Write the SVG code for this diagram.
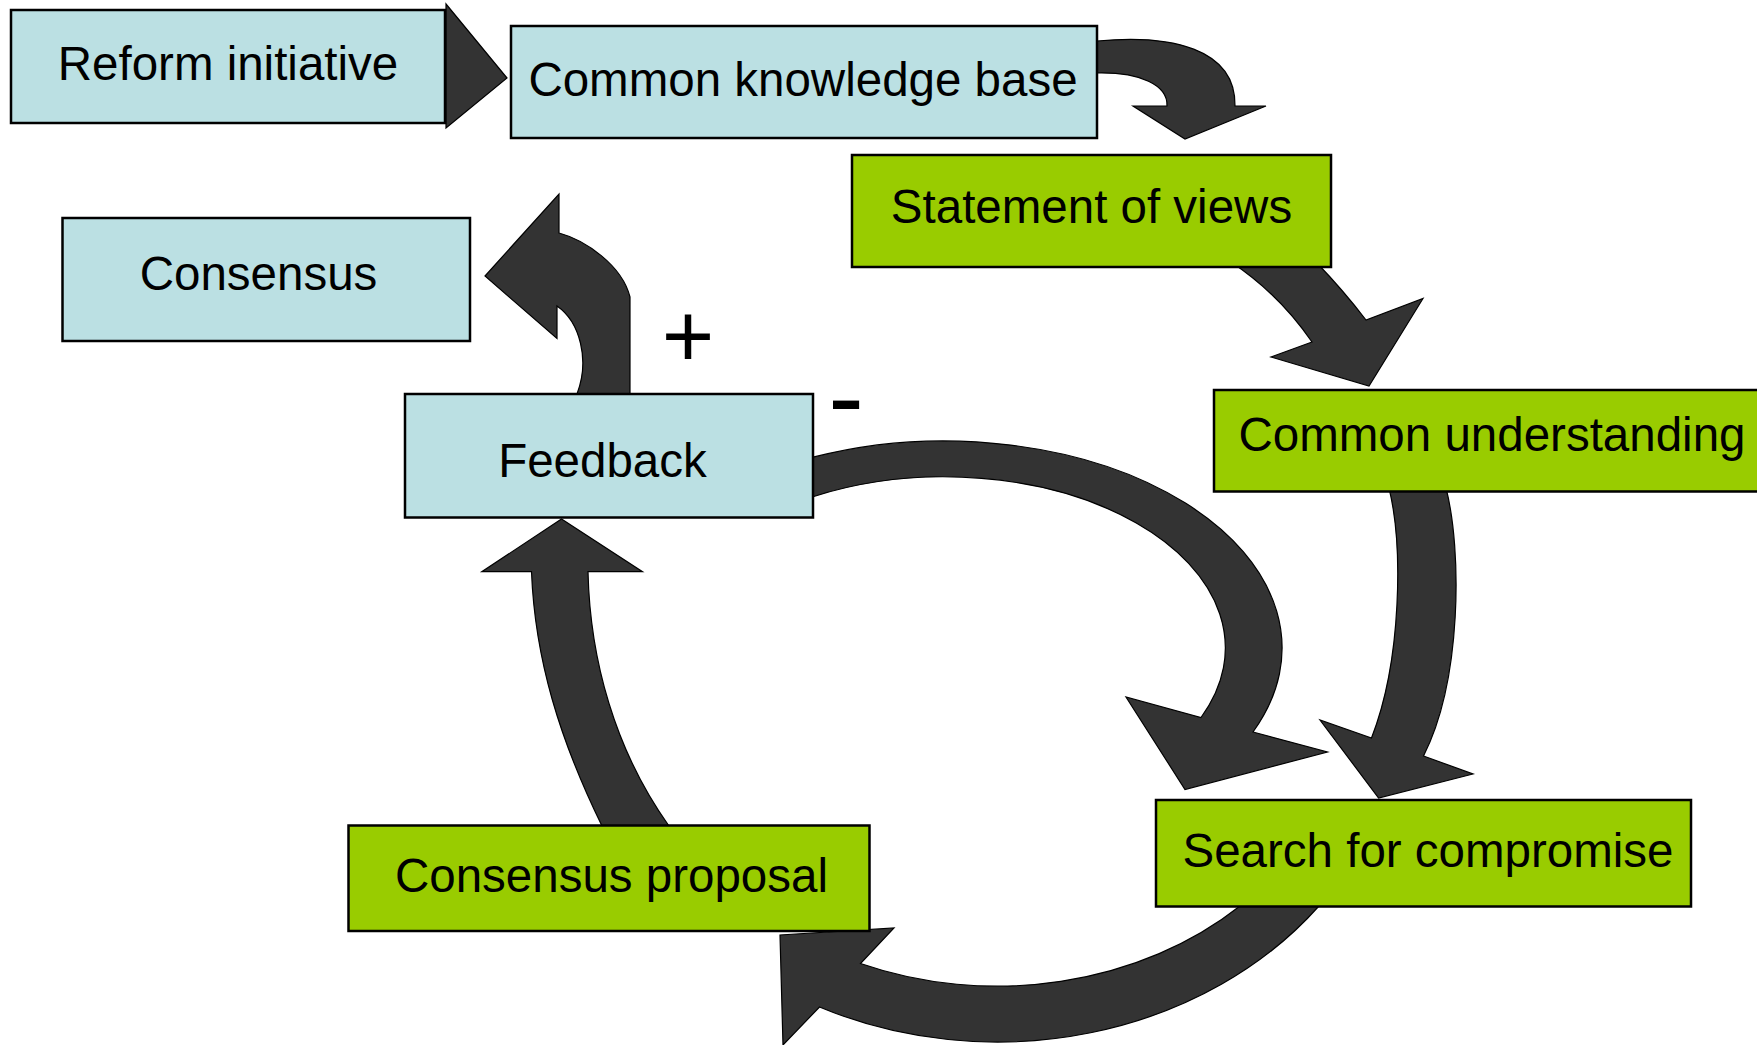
<svg xmlns="http://www.w3.org/2000/svg" width="1757" height="1045" viewBox="0 0 1757 1045">
<style>
.box{stroke:#000;stroke-width:2.5}
.blue{fill:#BBE0E3}
.green{fill:#99CC00}
.arr{fill:#333333;stroke:#000;stroke-width:1.2;stroke-linejoin:miter}
.t{font-family:"Liberation Sans",Arial,sans-serif;font-size:47.5px;fill:#000;text-anchor:middle}
.sign{font-family:"Liberation Sans",Arial,sans-serif;fill:#000;text-anchor:middle}
</style>
<rect width="1757" height="1045" fill="#fff"/>
<g id="connectors">
<polygon class="arr" points="446,4 507,78 446,128"/>
<path class="arr" d="M1097,41 C1170,34 1236,48 1235,106 L1266,106 L1185,139 L1133,106 L1167,106 C1168,85 1140,72 1097,73 Z"/>
<path class="arr" d="M1231,262 Q1279,294 1312,342 L1271,357 L1369,386 L1423,298.5 L1366,320 Q1343,290 1316,262 Z"/>
<path class="arr" d="M1389,488 C1403,545 1402,660 1371.5,738 L1320,720 L1378.6,798 L1473,774 L1423.5,756 C1462,680 1462,550 1446,488 Z"/>
<path class="arr" d="M813,457.2 A338,207 0 0 1 1253,732 L1327.5,752 L1185,789.5 L1126,697 L1201,717.5 A281,171 0 0 0 813,496.7 Z"/>
<path class="arr" d="M1319,906 A403,342 0 0 1 819.5,1007 L783,1045 L780,935 L894,928 L860.5,963.5 A350,286 0 0 0 1240,906 Z"/>
<path class="arr" d="M602,826 C560,740 535,660 531.5,571.7 L481.8,571.7 L561.5,519 L642.5,571.7 L588,571.7 C590,660 615,750 669,826 Z"/>
<path class="arr" d="M630,394 L630,297 C622,265 585,240 559,233 L559,194 L485,276 L557,338.5 L557,306 C580,322 590,360 577,394 Z"/>
</g>
<g id="reform"><rect class="box blue" x="11" y="10" width="434" height="113"/><text class="t" x="228" y="80">Reform initiative</text></g>
<g id="ckb"><rect class="box blue" x="511" y="26" width="586" height="112"/><text class="t" x="803" y="96">Common knowledge base</text></g>
<g id="statement"><rect class="box green" x="852" y="155" width="479" height="112"/><text class="t" x="1091.5" y="223">Statement of views</text></g>
<g id="consensus"><rect class="box blue" x="62.5" y="218" width="407.5" height="123"/><text class="t" x="258.5" y="290">Consensus</text></g>
<g id="feedback"><rect class="box blue" x="405" y="394" width="408" height="123.5"/><text class="t" x="602.5" y="477">Feedback</text></g>
<g id="understanding"><rect class="box green" x="1214" y="390" width="560" height="101.5"/><text class="t" x="1492" y="451">Common understanding</text></g>
<g id="search"><rect class="box green" x="1156" y="800" width="535" height="106.5"/><text class="t" x="1428" y="867">Search for compromise</text></g>
<g id="proposal"><rect class="box green" x="348.5" y="825.5" width="521" height="105.5"/><text class="t" x="611.5" y="892">Consensus proposal</text></g>
<g id="signs">
<text class="sign" x="688" y="367" font-size="90">+</text>
<text class="sign" x="846" y="433" font-size="107">-</text>
</g>
</svg>
